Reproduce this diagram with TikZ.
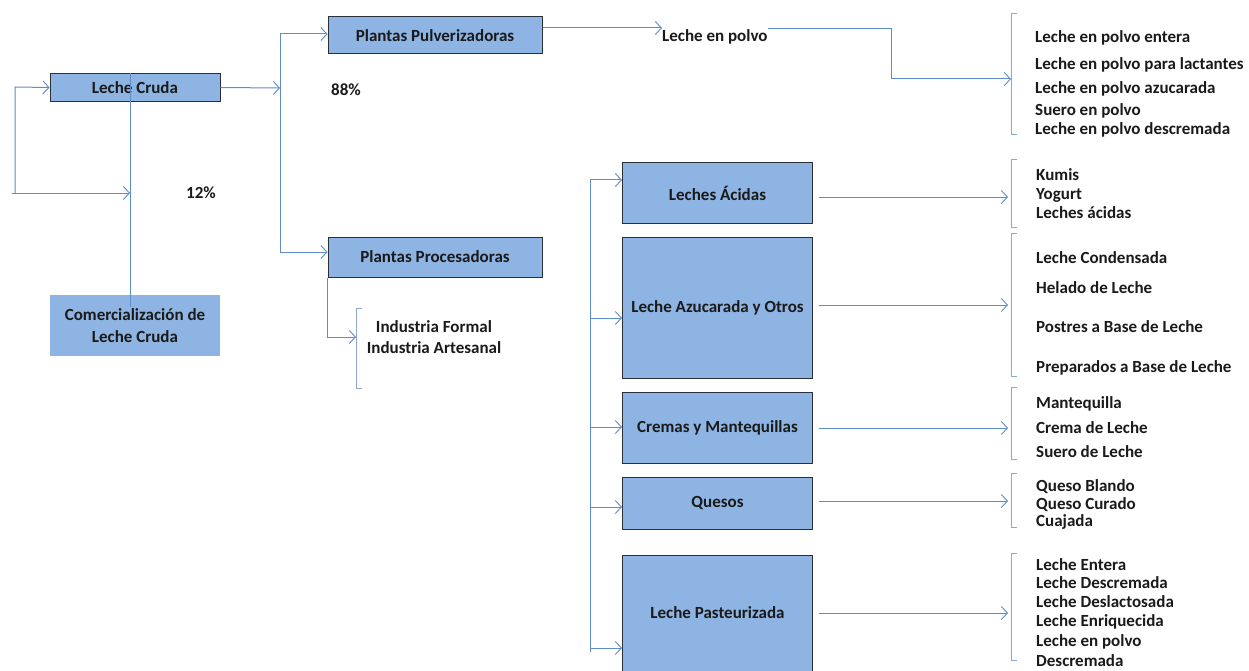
\documentclass[tikz,border=0pt]{standalone}
\usepackage{fontspec}
\setmainfont{Carlito}
\usetikzlibrary{arrows.meta,calc}
\definecolor{boxfill}{HTML}{8DB4E2}
\definecolor{boxedge}{HTML}{2A2F38}
\definecolor{linec}{HTML}{5F8DC8}
\definecolor{brk}{HTML}{8FA8CA}
\definecolor{txt}{HTML}{1A1A1A}
\begin{document}
\begin{tikzpicture}[x=1pt,y=-1pt,
  every node/.style={text=txt, font=\fontsize{17}{22}\selectfont\bfseries},
  box/.style={draw=boxedge, fill=boxfill, line width=1pt, align=center, inner sep=0pt},
  plainbox/.style={fill=boxfill, align=center, inner sep=0pt},
  conn/.style={draw=linec, line width=1pt},
  arr/.style={conn, -{Straight Barb[length=6pt,width=13pt,line width=0.9pt]}},
  brack/.style={draw=brk, line width=1pt},
  item/.style={anchor=west, inner sep=0pt}
]
\clip (0,0) rectangle (1249,671);
\fill[white] (0,0) rectangle (1249,671);

% boxes
\node[box, minimum width=170pt, minimum height=28pt] (cruda) at (135,87.5) {Leche Cruda};
\node[plainbox, minimum width=170pt, minimum height=61pt] (comer) at (135,325.5) {Comercialización de\\Leche Cruda};
\node[box, minimum width=214pt, minimum height=37pt] (pulv) at (435,35.5) {Plantas Pulverizadoras};
\node[box, minimum width=214pt, minimum height=40pt] (proc) at (435,257) {Plantas Procesadoras};
\node[box, minimum width=190pt, minimum height=60pt] (acidas) at (717.5,193) {Leches Ácidas};
\node[box, minimum width=190pt, minimum height=141pt] (azuc) at (717.5,307.5) {Leche Azucarada y Otros};
\node[box, minimum width=190pt, minimum height=71pt] (cremas) at (717.5,427.5) {Cremas y Mantequillas};
\node[box, minimum width=190pt, minimum height=52pt] (quesos) at (717.5,503) {Quesos};
\node[box, minimum width=190pt, minimum height=124pt] (past) at (717.5,617) {};
\node (pasttext) at (717.5,613) {Leche Pasteurizada};

% percentages and texts
\node (p88) at (346,90) {88\%};
\node (p12) at (201,193) {12\%};
\node[item] (polvo) at (662,37) {Leche en polvo};
\node (ind1) at (434,327) {Industria Formal};
\node (ind2) at (434,348) {Industria Artesanal};

% lists
\foreach \t/\y [count=\i] in {Leche en polvo entera/38, Leche en polvo para lactantes/65, Leche en polvo azucarada/89, Suero en polvo/111, Leche en polvo descremada/130}
  \node[item] (lp\i) at (1035,\y) {\t};
\foreach \t/\y [count=\i] in {Kumis/175, Yogurt/195, Leches ácidas/213}
  \node[item] (la\i) at (1036,\y) {\t};
\foreach \t/\y [count=\i] in {Leche Condensada/258, Helado de Leche/288, Postres a Base de Leche/327, Preparados a Base de Leche/368}
  \node[item] (lz\i) at (1036,\y) {\t};
\foreach \t/\y [count=\i] in {Mantequilla/404, Crema de Leche/428, Suero de Leche/452}
  \node[item] (lc\i) at (1036,\y) {\t};
\foreach \t/\y [count=\i] in {Queso Blando/487, Queso Curado/505, Cuajada/522}
  \node[item] (lq\i) at (1036,\y) {\t};
\foreach \t/\y [count=\i] in {Leche Entera/565, Leche Descremada/583, Leche Deslactosada/602, Leche Enriquecida/622, Leche en polvo/642, Descremada/661}
  \node[item] (le\i) at (1036,\y) {\t};

% brackets
\coordinate (bp) at (1011,79);
\coordinate (ba) at (1011,197);
\coordinate (bz) at (1011,305);
\coordinate (bc) at (1011,428);
\coordinate (bq) at (1011,501);
\coordinate (be) at (1011,613);
\coordinate (bi) at (356,337);
\foreach \x/\a/\b in {1011/14/135, 1011/160/227, 1011/233/376, 1011/387/459, 1011/473/527, 1011/553/660, 356/308/388}
  \draw[brack] (\x+6,\a) -- (\x,\a) -- (\x,\b) -- (\x+6,\b);

% feedback loop at left
\coordinate (fbs) at (12,193);
\coordinate (fbt) at (15,87);
\coordinate (fbb) at (15,193);
\coordinate (fbe) at (130,193);
\draw[arr] (fbs) -- (fbe);
\draw[arr] (fbb) -- (fbt) -- (cruda.west);
\draw[conn] (cruda.north -| fbe) -- ($(comer.north -| fbe)+(0,12)$);

% trunk to plants
\coordinate (tt) at (280,34);
\coordinate (tm) at (280,88);
\coordinate (tb) at (280,252);
\draw[arr] (cruda.east) -- (tm);
\draw[conn] (tt) -- (tb);
\draw[arr] (tt) -- (pulv.west |- tt);
\draw[arr] (tb) -- (proc.west |- tb);

% pulverizadoras -> leche en polvo -> list
\draw[arr] (pulv.east |- 0,28) -- (polvo.west |- 0,28);
\coordinate (pk) at (891,29);
\draw[arr] (polvo.east |- pk) -- (pk) -- (pk |- bp) -- (bp);

% procesadoras -> industrias
\draw[arr] (proc.south west) -- (proc.south west |- bi) -- (bi);

% right tree
\coordinate (rt) at (590,180);
\coordinate (rb) at (590,652);
\draw[conn] (rt) -- (rb);
\draw[arr] (rt) -- (acidas.west |- rt);
\draw[arr] (590,318) -- (azuc.west |- 0,318);
\draw[arr] (590,427) -- (cremas.west |- 0,427);
\draw[arr] (590,507) -- (quesos.west |- 0,507);
\draw[arr] (590,648) -- (past.west |- 0,648);

% products arrows
\draw[arr] ($(acidas.east |- ba)+(6,0)$) -- ($(ba)+(-3,0)$);
\draw[arr] ($(azuc.east |- bz)+(6,0)$) -- ($(bz)+(-3,0)$);
\draw[arr] ($(cremas.east |- bc)+(6,0)$) -- ($(bc)+(-3,0)$);
\draw[arr] ($(quesos.east |- bq)+(6,0)$) -- ($(bq)+(-3,0)$);
\draw[arr] ($(past.east |- be)+(6,0)$) -- ($(be)+(-3,0)$);
\end{tikzpicture}
\end{document}
